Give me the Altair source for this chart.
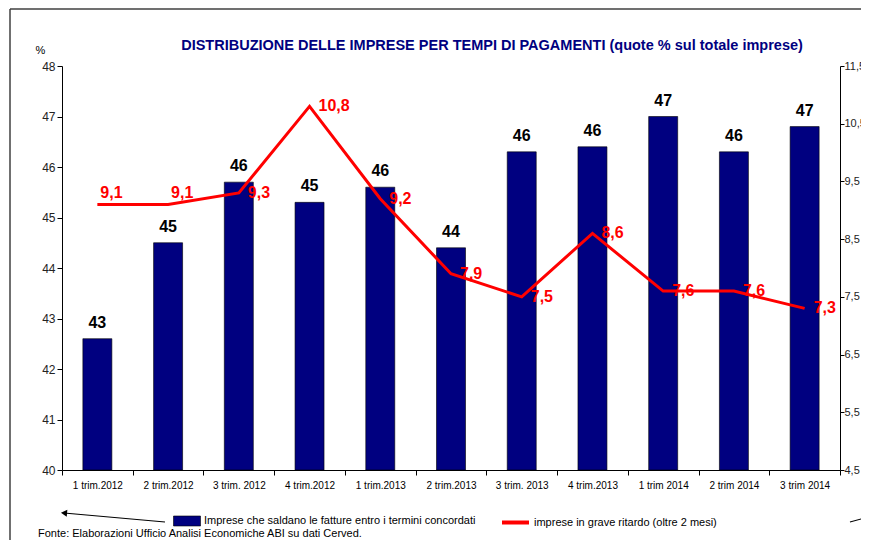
import altair as alt
import pandas as pd

categories = ["1 trim.2012", "2 trim.2012", "3 trim. 2012", "4 trim.2012",
              "1 trim.2013", "2 trim.2013", "3 trim. 2013", "4 trim.2013",
              "1 trim 2014", "2 trim 2014", "3 trim 2014"]
share_on_time = [42.6, 44.5, 45.7, 45.3, 45.6, 44.4, 46.3, 46.4, 47.0, 46.3, 46.8]
late_over_2m = [9.1, 9.1, 9.3, 10.8, 9.2, 7.9, 7.5, 8.6, 7.6, 7.6, 7.3]
left_ticks = [40, 41, 42, 43, 44, 45, 46, 47, 48]
right_ticks = [4.5, 5.5, 6.5, 7.5, 8.5, 9.5, 10.5, 11.5]
raised_labels = ["1 trim.2012", "2 trim.2012"]

bar_name = "Imprese che saldano le fatture entro i termini concordati"
line_name = "imprese in grave ritardo (oltre 2 mesi)"
title_text = "DISTRIBUZIONE DELLE IMPRESE PER TEMPI DI PAGAMENTI (quote % sul totale imprese)"
source_text = "Fonte: Elaborazioni Ufficio Analisi Economiche ABI su dati Cerved."

FONT = "Liberation Sans"
NAVY = "#000080"
RED = "#FF0000"

df = pd.DataFrame({"cat": categories, "bar": share_on_time, "late": late_over_2m})
base = alt.Chart(df).transform_calculate(
    s_bar=f'"{bar_name}"',
    s_line=f'"{line_name}"',
    bar_lab="format(round(datum.bar), 'd')",
    late_lab="replace(format(datum.late, '.1f'), '.', ',')",
)

x_enc = alt.X(
    "cat:N", sort=categories,
    scale=alt.Scale(paddingInner=0, paddingOuter=0),
    axis=alt.Axis(title=None, labelAngle=0, tickBand="extent", labelFontSize=10,
                  labelFont=FONT, labelColor="#000", labelPadding=5, tickSize=5,
                  domainColor="#000", tickColor="#000", grid=False),
)
y_left = alt.Y(
    "bar:Q", scale=alt.Scale(domain=[40, 48], nice=False, zero=False),
    axis=alt.Axis(values=left_ticks, title="%", titleAngle=0, titleX=-22, titleY=-16,
                  titleFontWeight="normal", titleFontSize=11, titleFont=FONT,
                  titleAlign="center", titleBaseline="middle",
                  labelFontSize=12, labelFont=FONT, labelColor="#222",
                  tickSize=5, domainColor="#000", tickColor="#000", grid=False),
)
y_right = alt.Y(
    "late:Q", scale=alt.Scale(domain=[4.5, 11.5], nice=False, zero=False),
    axis=alt.Axis(orient="right", values=right_ticks, title=None,
                  labelExpr="replace(format(datum.value, '.1f'), '.', ',')",
                  labelFontSize=11, labelFont=FONT, labelColor="#222", labelPadding=0,
                  tickSize=4, domainColor="#000", tickColor="#000", grid=False),
)

bars = base.mark_bar(size=29, stroke="#000", strokeWidth=0.6).encode(
    x=x_enc,
    y=y_left,
    y2=alt.datum(40),
    fill=alt.Fill("s_bar:N", scale=alt.Scale(domain=[bar_name], range=[NAVY]),
                  legend=alt.Legend(title=None, orient="none", legendX=111, legendY=441,
                                    symbolType="M-1,-0.37H1V0.37H-1Z", symbolSize=729,
                                    symbolStrokeColor="#000", symbolStrokeWidth=0.6,
                                    labelFontSize=11, labelFont=FONT, labelColor="#000",
                                    labelLimit=0, labelOffset=3, padding=0)),
)
bar_text = base.mark_text(dy=-16, fontSize=16, fontWeight="bold", font=FONT,
                          color="#000", baseline="middle").encode(
    x=x_enc, y=y_left, text="bar_lab:N",
)
left_layer = alt.layer(bars, bar_text)

line = base.mark_line(strokeWidth=3).encode(
    x=x_enc,
    y=y_right,
    stroke=alt.Stroke("s_line:N", scale=alt.Scale(domain=[line_name], range=[RED]),
                      legend=alt.Legend(title=None, orient="none", legendX=438, legendY=441,
                                        symbolType="stroke", symbolSize=729,
                                        symbolStrokeWidth=4,
                                        labelFontSize=11, labelFont=FONT, labelColor="#000",
                                        labelLimit=0, labelOffset=3, padding=0)),
)
line_text = base.transform_filter(
    ~alt.FieldOneOfPredicate(field="cat", oneOf=raised_labels)
).mark_text(dx=9, fontSize=16, fontWeight="bold", font=FONT, color=RED,
            align="left", baseline="middle").encode(
    x=x_enc, y=y_right, text="late_lab:N",
)
line_text_up = base.transform_filter(
    alt.FieldOneOfPredicate(field="cat", oneOf=raised_labels)
).mark_text(dx=3, dy=-12, fontSize=16, fontWeight="bold", font=FONT, color=RED,
            align="left", baseline="middle").encode(
    x=x_enc, y=y_right, text="late_lab:N",
)
right_layer = alt.layer(line, line_text, line_text_up)

one = alt.Data(values=[{"t": 1}])
title_mark = alt.Chart(one).mark_text(
    text=title_text, fontSize=14.5, fontWeight="bold", font=FONT, color=NAVY,
    align="center", baseline="middle"
).encode(x=alt.value(430), y=alt.value(-20))
source_mark = alt.Chart(one).mark_text(
    text=source_text, fontSize=11, font=FONT, color="#000",
    align="left", baseline="middle"
).encode(x=alt.value(-24), y=alt.value(468))
frame_left = alt.Chart(one).mark_rule(color="#404040", strokeWidth=1.5).encode(
    x=alt.value(-52), y=alt.value(-57), y2=alt.value(500))
frame_top = alt.Chart(one).mark_rule(color="#404040", strokeWidth=1.5).encode(
    x=alt.value(-52), x2=alt.value(820), y=alt.value(-57))
arrow_l = alt.Chart(one).mark_rule(color="#000", strokeWidth=1.2).encode(
    x=alt.value(103), x2=alt.value(2), y=alt.value(456), y2=alt.value(447))
arrow_l_head = alt.Chart(one).mark_point(shape="triangle-left", filled=True, color="#000",
                                         size=50, angle=5, opacity=1).encode(
    x=alt.value(2), y=alt.value(447))
arrow_r = alt.Chart(one).mark_rule(color="#000", strokeWidth=1.2).encode(
    x=alt.value(788), x2=alt.value(810), y=alt.value(456), y2=alt.value(450))

chart = alt.layer(
    left_layer, right_layer, title_mark, source_mark,
    frame_left, frame_top, arrow_l, arrow_l_head, arrow_r
).resolve_scale(y="independent", fill="independent", stroke="independent").properties(
    width=778, height=404,
    autosize=alt.AutoSizeParams(type="none"),
    padding={"left": 54, "top": 58, "right": 21, "bottom": 70},
).configure(background="white").configure_view(stroke=None)

chart.save("out.html", embed_options={"renderer": "svg", "actions": False})
